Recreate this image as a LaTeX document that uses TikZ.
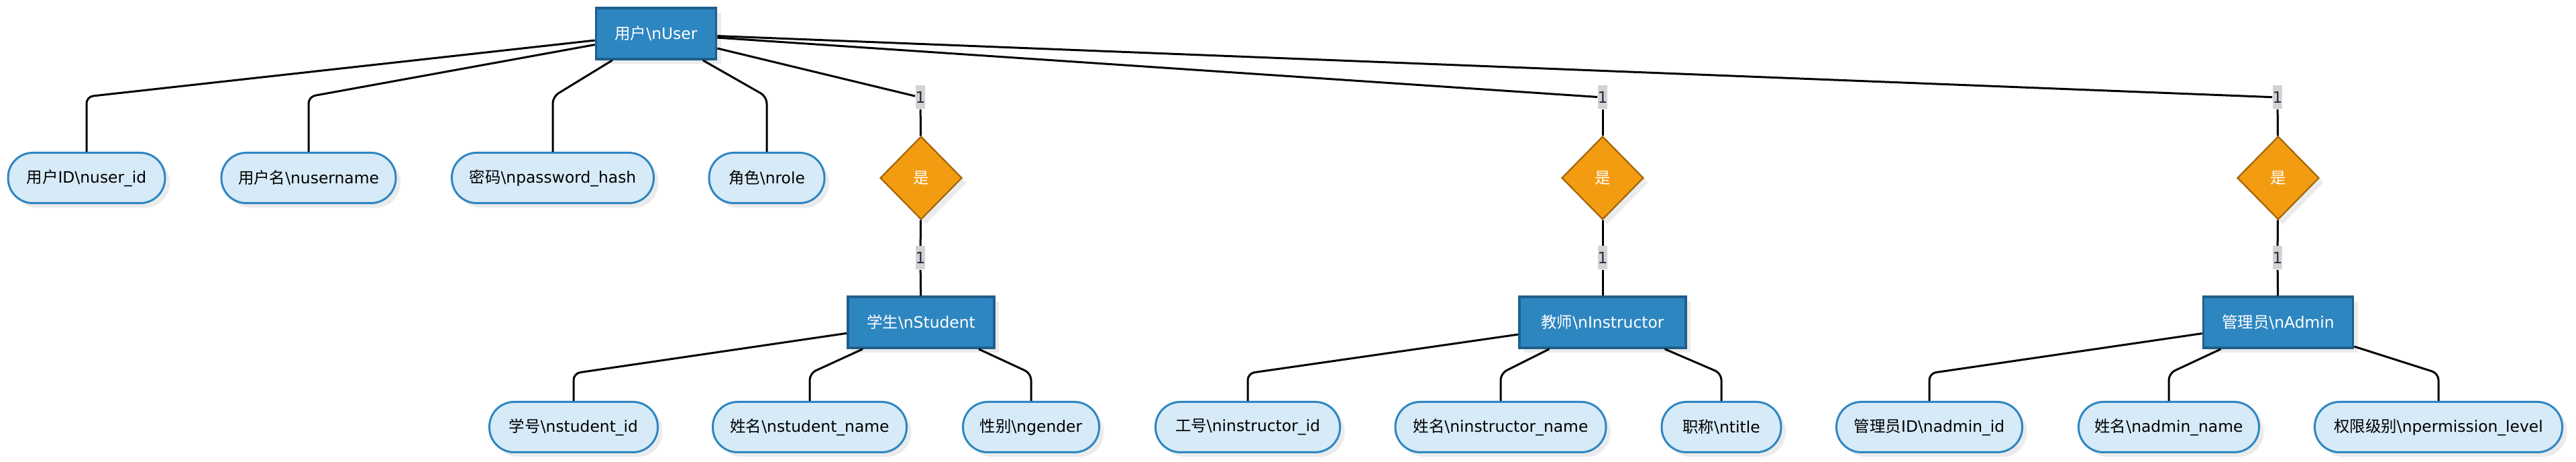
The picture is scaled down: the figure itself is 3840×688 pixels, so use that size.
\documentclass[tikz,border=0pt]{standalone}
\usepackage{fontspec}
\setmainfont{DejaVu Sans}
\newfontfamily\cjk{Noto Sans CJK SC}
\usetikzlibrary{shapes.geometric,shadows}
\definecolor{entfill}{HTML}{2E86C1}
\definecolor{entdraw}{HTML}{1F5F8B}
\definecolor{attfill}{HTML}{D6EAF8}
\definecolor{attdraw}{HTML}{2E86C1}
\definecolor{relfill}{HTML}{F39C12}
\definecolor{reldraw}{HTML}{A0650A}
\definecolor{labfill}{HTML}{D3D3D3}
\definecolor{labtext}{HTML}{2B2B3F}
\newcommand{\bsn}{\textbackslash n}
\begin{document}
\begin{tikzpicture}[x=0.5pt,y=-0.5pt,
  font=\fontsize{11.7}{14}\selectfont,
  shade/.style={drop shadow={shadow xshift=3.5pt,shadow yshift=-3.5pt,opacity=0.08,fill=black}},
  entity/.style={draw=entdraw,line width=1.8pt,fill=entfill,text=white,minimum height=38pt,inner sep=0pt,shade},
  attr/.style={draw=attdraw,line width=1.5pt,fill=attfill,rounded corners=18.5pt,minimum height=37.5pt,inner sep=0pt,shade},
  rel/.style={diamond,draw=reldraw,line width=1.1pt,fill=relfill,text=white,minimum width=61pt,minimum height=62pt,inner sep=0pt,shade},
  card/.style={fill=labfill,text=labtext,minimum width=6.5pt,minimum height=17.5pt,inner sep=0pt},
  conn/.style={draw=black,line width=1.5pt,rounded corners=5pt}]
\useasboundingbox (0,0) rectangle (3840,688);
% entities
\node[entity,minimum width=89.5pt] (U) at (978,50) {{\cjk 用户}\bsn User};
\node[entity,minimum width=109pt] (S) at (1373,480) {{\cjk 学生}\bsn Student};
\node[entity,minimum width=124pt] (I) at (2389,480) {{\cjk 教师}\bsn Instructor};
\node[entity,minimum width=111.5pt] (A) at (3396,480) {{\cjk 管理员}\bsn Admin};
% user attributes
\node[attr,minimum width=117pt] (a1) at (129,265) {{\cjk 用户}ID\bsn user\_id};
\node[attr,minimum width=130pt] (a2) at (460,265) {{\cjk 用户名}\bsn username};
\node[attr,minimum width=150.5pt] (a3) at (824,265) {{\cjk 密码}\bsn password\_hash};
\node[attr,minimum width=86pt] (a4) at (1143,265) {{\cjk 角色}\bsn role};
% relations
\node[rel] (d1) at (1373,265) {\cjk 是};
\node[rel] (d2) at (2389,265) {\cjk 是};
\node[rel] (d3) at (3396,265) {\cjk 是};
% cardinality labels
\node[card] (c1) at (1372,145) {1};
\node[card] (c2) at (2389,145) {1};
\node[card] (c3) at (3395,145) {1};
\node[card] (e1) at (1372,384) {1};
\node[card] (e2) at (2389,384) {1};
\node[card] (e3) at (3395,384) {1};
% lower attributes
\node[attr,minimum width=125.5pt] (s1) at (855,636) {{\cjk 学号}\bsn student\_id};
\node[attr,minimum width=144.5pt] (s2) at (1207,636) {{\cjk 姓名}\bsn student\_name};
\node[attr,minimum width=101.5pt] (s3) at (1537,636) {{\cjk 性别}\bsn gender};
\node[attr,minimum width=137.5pt] (i1) at (1860,636) {{\cjk 工号}\bsn instructor\_id};
\node[attr,minimum width=157pt] (i2) at (2237,636) {{\cjk 姓名}\bsn instructor\_name};
\node[attr,minimum width=89pt] (i3) at (2566,636) {{\cjk 职称}\bsn title};
\node[attr,minimum width=138.5pt] (m1) at (2876,636) {{\cjk 管理员}ID\bsn admin\_id};
\node[attr,minimum width=134.5pt] (m2) at (3233,636) {{\cjk 姓名}\bsn admin\_name};
\node[attr,minimum width=184.5pt] (m3) at (3635,636) {{\cjk 权限级别}\bsn permission\_level};
% bend levels
\coordinate (tb) at (0,144);
\coordinate (bb) at (0,556);
% connectors
\foreach \a in {a1,a2,a3,a4} \draw[conn] (U) -- (\a |- tb) -- (\a);
\foreach \a in {s1,s2,s3} \draw[conn] (S) -- (\a |- bb) -- (\a);
\foreach \a in {i1,i2,i3} \draw[conn] (I) -- (\a |- bb) -- (\a);
\foreach \a in {m1,m2,m3} \draw[conn] (A) -- (\a |- bb) -- (\a);
\draw[conn] (U) -- (c1); \draw[conn] (c1) -- (d1); \draw[conn] (d1) -- (e1); \draw[conn] (e1) -- (S);
\draw[conn] (U) -- (c2); \draw[conn] (c2) -- (d2); \draw[conn] (d2) -- (e2); \draw[conn] (e2) -- (I);
\draw[conn] (U) -- (c3); \draw[conn] (c3) -- (d3); \draw[conn] (d3) -- (e3); \draw[conn] (e3) -- (A);
\end{tikzpicture}
\end{document}
